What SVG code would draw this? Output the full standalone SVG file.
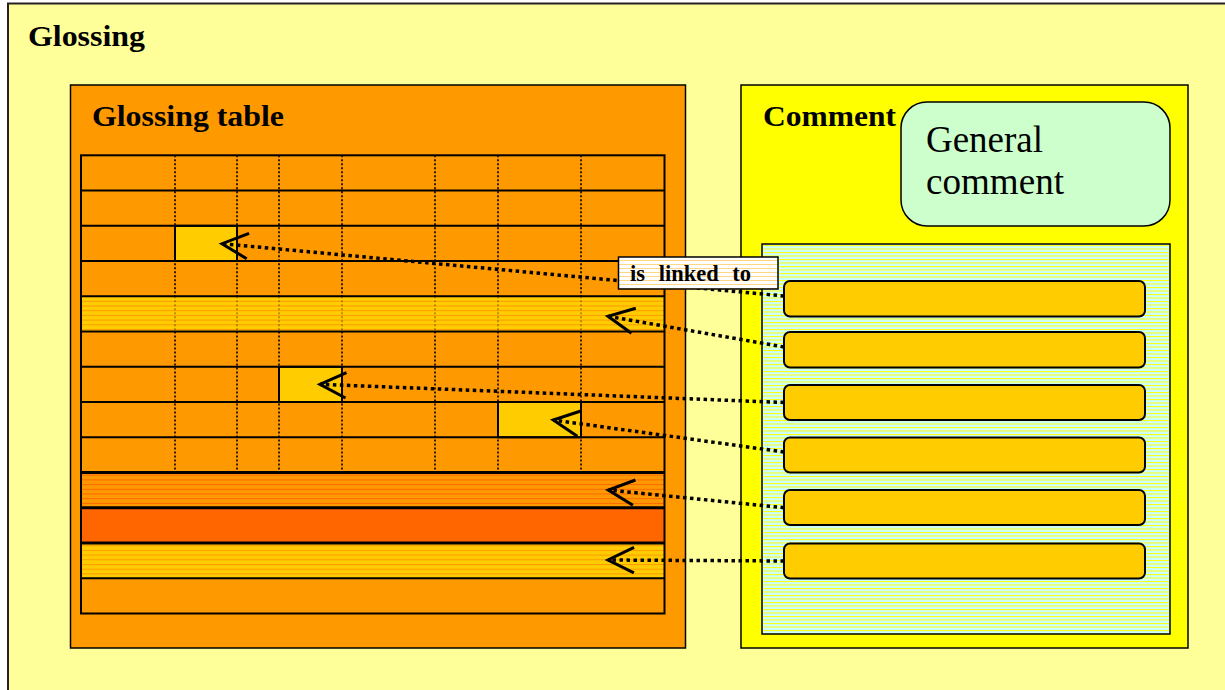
<svg xmlns="http://www.w3.org/2000/svg" width="1225" height="690" viewBox="0 0 1225 690">
<defs>
<style>
.title{font-family:"Liberation Serif","Times New Roman",serif;font-weight:bold;font-size:30px;fill:#000}
.gen{font-family:"Liberation Serif","Times New Roman",serif;font-size:37px;fill:#000}
.lbl{font-family:"Liberation Serif","Times New Roman",serif;font-weight:bold;font-size:22.5px;fill:#000}
.box{stroke:#000;stroke-width:1.5}
.row{fill:none;stroke:#000;stroke-width:2}
.thick{fill:none;stroke:#000;stroke-width:3}
.vdot{stroke:#000;stroke-width:1.6;stroke-dasharray:2 2}
.cell{fill:#FFCC00;stroke:#000;stroke-width:2}
.item{fill:#FFCC00;stroke:#000;stroke-width:2}
.conn{fill:none;stroke:#000;stroke-width:3.5;stroke-dasharray:3.5 3.5;marker-end:url(#vee)}
</style>
<pattern id="stripeY" patternUnits="userSpaceOnUse" width="10" height="4.7">
<rect width="10" height="4.7" fill="#FFCC00"/>
<rect y="0" width="10" height="1" fill="#FF9900"/>
</pattern>
<pattern id="stripeO" patternUnits="userSpaceOnUse" width="10" height="4.7">
<rect width="10" height="4.7" fill="#FF9900"/>
<rect y="0" width="10" height="1" fill="#FF6600"/>
</pattern>
<pattern id="stripeC" patternUnits="userSpaceOnUse" width="10" height="3.5">
<rect width="10" height="3.5" fill="#CCFFFF"/>
<rect y="0" width="10" height="1" fill="#FFFF00"/>
</pattern>
<pattern id="stripeL" patternUnits="userSpaceOnUse" width="10" height="4">
<rect width="10" height="4" fill="#FFFFFF"/>
<rect y="0" width="10" height="0.8" fill="#FFCC66"/>
</pattern>
<marker id="vee" markerUnits="userSpaceOnUse" viewBox="-30 -16 34 32" refX="0" refY="0" markerWidth="34" markerHeight="32" orient="auto" overflow="visible">
<path d="M-26,-12.7 L0,0 L-26,12.7" fill="none" stroke="#000" stroke-width="3" stroke-dasharray="none"/>
</marker>
</defs>

<g id="glossing">
<rect x="8" y="3.5" width="1230" height="700" fill="#FFFF99" stroke="#222" stroke-width="2"/>
<text class="title" x="28" y="46" textLength="117" lengthAdjust="spacingAndGlyphs">Glossing</text>
</g>

<g id="glossing-table">
<rect class="box" x="70.5" y="85" width="615" height="563" fill="#FF9900"/>
<text class="title" x="92" y="126" textLength="192" lengthAdjust="spacingAndGlyphs">Glossing table</text>
<g id="table">
<rect x="81" y="155.3" width="583.5" height="458.2" fill="#FF9900"/>
<rect x="81" y="296.3" width="583.5" height="35.2" fill="url(#stripeY)"/>
<rect x="81" y="472.5" width="583.5" height="35.3" fill="url(#stripeO)"/>
<rect x="81" y="507.8" width="583.5" height="35.2" fill="#FF6600"/>
<rect x="81" y="543" width="583.5" height="35.3" fill="url(#stripeY)"/>
<rect class="cell" x="175" y="225.8" width="62" height="35.2"/>
<rect class="cell" x="279" y="366.8" width="63" height="35.2"/>
<rect class="cell" x="498" y="402" width="83" height="35.3"/>
<g id="col-lines">
<path class="vdot" d="M175,155.3V296.3M237,155.3V296.3M279,155.3V296.3M342,155.3V296.3M435,155.3V296.3M498,155.3V296.3M581,155.3V296.3"/>
<path class="vdot" d="M175,331.5V472.5M237,331.5V472.5M279,331.5V472.5M342,331.5V472.5M435,331.5V472.5M498,331.5V472.5M581,331.5V472.5"/>
<path class="vdot" opacity="0.35" d="M175,296.3V331.5M237,296.3V331.5M279,296.3V331.5M342,296.3V331.5M435,296.3V331.5M498,296.3V331.5M581,296.3V331.5"/>
</g>
<path class="row" d="M81,190.5H664.5M81,225.8H664.5M81,261H664.5M81,296.3H664.5M81,331.5H664.5M81,366.8H664.5M81,402H664.5M81,437.3H664.5M81,578.3H664.5"/>
<path class="thick" d="M81,472.5H664.5M81,507.8H664.5M81,543H664.5"/>
<rect class="row" x="81" y="155.3" width="583.5" height="458.2"/>
</g>
</g>

<g id="comment">
<rect class="box" x="741" y="85" width="447" height="563" fill="#FFFF00"/>
<text class="title" x="763" y="126" textLength="133" lengthAdjust="spacingAndGlyphs">Comment</text>
</g>

<g id="general-comment">
<rect x="901" y="102" width="269" height="124" rx="26" ry="26" fill="#CCFFCC" stroke="#000" stroke-width="1.5"/>
<text class="gen" x="926" y="152" textLength="117" lengthAdjust="spacingAndGlyphs">General</text>
<text class="gen" x="926" y="194" textLength="138" lengthAdjust="spacingAndGlyphs">comment</text>
</g>

<g id="comment-list">
<rect x="762" y="244" width="408" height="390" fill="url(#stripeC)" stroke="#000" stroke-width="1.5"/>
<g id="comment-1"><rect class="item" x="784" y="281" width="361" height="35.5" rx="6"/></g>
<g id="comment-2"><rect class="item" x="784" y="332" width="361" height="35.5" rx="6"/></g>
<g id="comment-3"><rect class="item" x="784" y="385" width="361" height="35" rx="6"/></g>
<g id="comment-4"><rect class="item" x="784" y="437.5" width="361" height="35" rx="6"/></g>
<g id="comment-5"><rect class="item" x="784" y="490" width="361" height="35" rx="6"/></g>
<g id="comment-6"><rect class="item" x="784" y="543.5" width="361" height="35" rx="6"/></g>
</g>

<g id="connectors">
<path class="conn" d="M784,296 L222,243.7"/>
<path class="conn" d="M784,347 L608,316.3"/>
<path class="conn" d="M784,402.5 L320,384.3"/>
<path class="conn" d="M784,452 L553.3,420"/>
<path class="conn" d="M784,507.7 L608.3,490"/>
<path class="conn" d="M784,561 L608,560"/>
</g>

<g id="label">
<rect x="618.5" y="257" width="159.5" height="32" fill="url(#stripeL)" stroke="#000" stroke-width="1.5"/>
<text class="lbl" x="630" y="281" word-spacing="8">is linked to</text>
</g>
</svg>
